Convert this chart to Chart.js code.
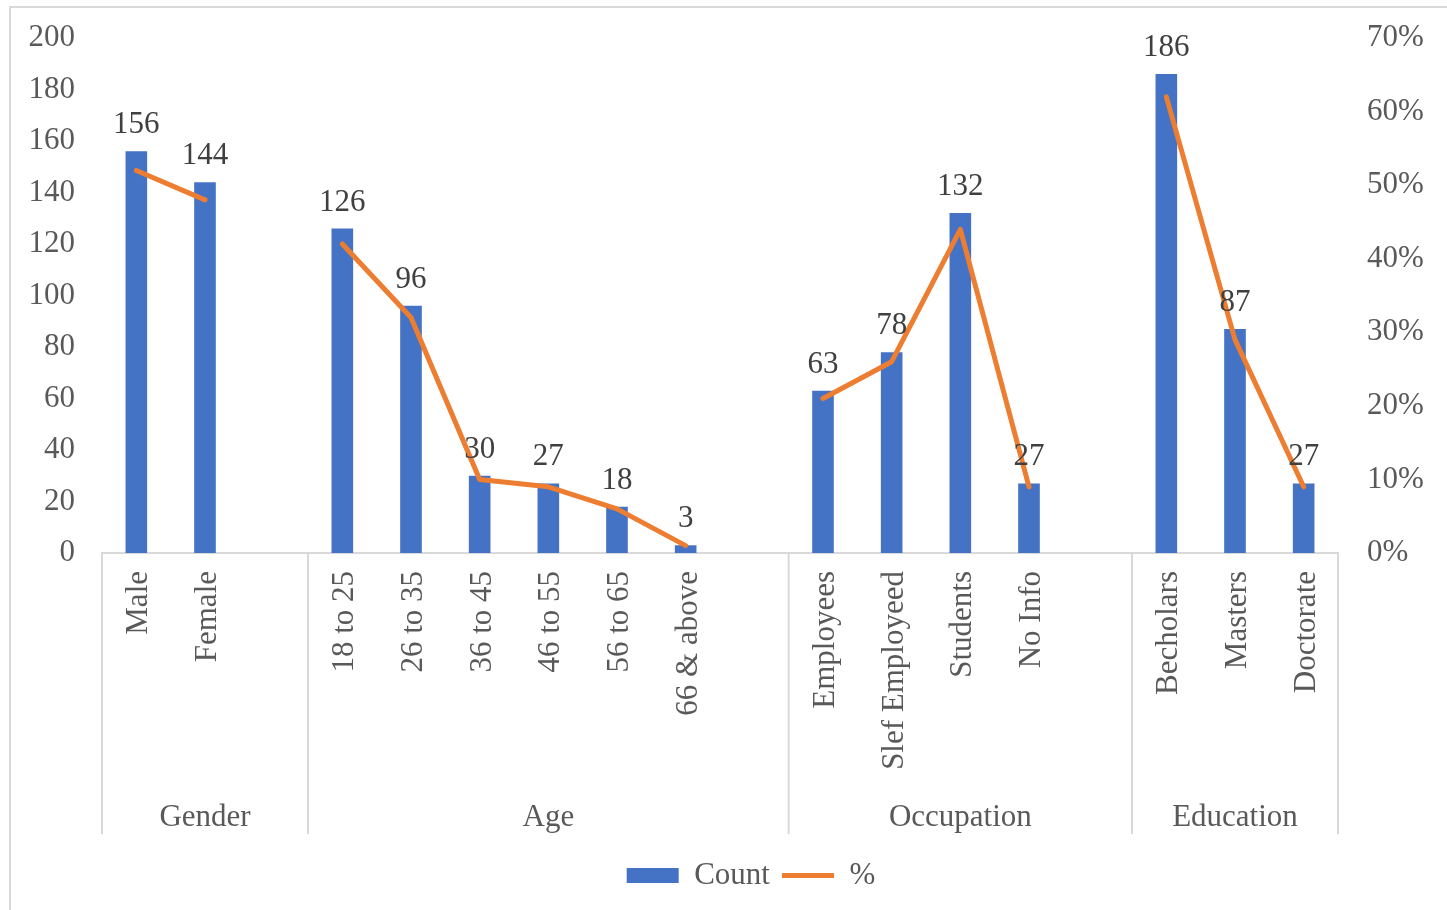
<!DOCTYPE html>
<html>
<head>
<meta charset="utf-8">
<script src="https://cdn.jsdelivr.net/npm/chart.js@4.4.1/dist/chart.umd.min.js"></script>
<style>
  html, body { margin:0; padding:0; background:#fff; overflow:hidden; width:1447px; height:910px; }
  #wrap { position:absolute; left:0; top:0; width:1502px; height:910px; }
</style>
</head>
<body>
<div id="wrap"><canvas id="chart" width="1502" height="910"></canvas></div>
<script>
const labels = ['Male','Female','', '18 to 25','26 to 35','36 to 45','46 to 55','56 to 65','66 & above','',
  'Employees','Slef Employeed','Students','No Info','', 'Becholars','Masters','Doctorate'];
const counts = [156,144,null, 126,96,30,27,18,3,null, 63,78,132,27,null, 186,87,27];
const percents = [52,48,null, 42,32,10,9,6,1,null, 21,26,44,9,null, 62,29,9];
const groupNames = ['Gender','Age','Occupation','Education'];
const groupSizes = [3,7,5,3];
const countTicks = [0,20,40,60,80,100,120,140,160,180,200];
const pctTicks = [0,10,20,30,40,50,60,70];

const FONT = '"Liberation Serif", "Times New Roman", serif';
const GREY = '#595959';
const LINE = '#d9d9d9';

// frame, group separators, group names, bar value labels
const extras = {
  id:'extras',
  beforeDraw(chart){
    const c = chart.ctx;
    c.save();
    c.strokeStyle = LINE; c.lineWidth = 2;
    c.beginPath();
    c.moveTo(10, 910); c.lineTo(10, 7); c.lineTo(1502, 7);
    c.stroke();
    c.restore();
  },
  afterDraw(chart){
    const c = chart.ctx, xs = chart.scales.x;
    const step = xs.getPixelForValue(1) - xs.getPixelForValue(0);
    const top = xs.top, bottom = xs.top + 281;
    c.save();
    c.strokeStyle = LINE; c.lineWidth = 2;
    let start = 0;
    const edges = [xs.getPixelForValue(0) - step/2];
    groupSizes.forEach(n => { start += n; edges.push(xs.getPixelForValue(start - 1) + step/2); });
    edges.forEach(x => { c.beginPath(); c.moveTo(x, top); c.lineTo(x, bottom); c.stroke(); });
    c.fillStyle = GREY; c.font = '31px ' + FONT; c.textAlign = 'center'; c.textBaseline = 'alphabetic';
    groupNames.forEach((g, i) => c.fillText(g, (edges[i] + edges[i+1]) / 2, top + 273));
    // value labels above the bars
    const meta = chart.getDatasetMeta(1);
    c.fillStyle = '#404040';
    meta.data.forEach((bar, i) => {
      if (counts[i] == null) return;
      c.fillText(String(counts[i]), bar.x, bar.y - 18);
    });
    c.restore();
  }
};

new Chart(document.getElementById('chart'), {
  data:{
    labels,
    datasets:[
      { type:'line', label:'%', data:percents, yAxisID:'y2', order:0,
        borderColor:'#ED7D31', backgroundColor:'#ED7D31', borderWidth:5,
        borderCapStyle:'round', borderJoinStyle:'round', pointRadius:0, pointHoverRadius:0,
        tension:0, spanGaps:false, pointStyle:'line' },
      { type:'bar', label:'Count', data:counts, yAxisID:'y', order:1,
        backgroundColor:'#4472C4', borderWidth:0, barPercentage:0.315, categoryPercentage:1, pointStyle:'rect' }
    ]
  },
  options:{
    responsive:false, devicePixelRatio:1, animation:false,
    layout:{ padding:{ left:0, right:0, top:38, bottom:9 } },
    plugins:{
      tooltip:{ enabled:false },
      legend:{
        position:'bottom',
        reverse:true,
        labels:{
          usePointStyle:true, pointStyleWidth:52, boxHeight:15, padding:12,
          color:GREY, font:{ family:FONT, size:31 }
        }
      }
    },
    scales:{
      x:{
        grid:{ display:false, drawTicks:false },
        border:{ display:true, color:LINE, width:2 },
        ticks:{ autoSkip:false, minRotation:90, maxRotation:90, padding:18, labelOffset:3,
          color:GREY, font:{ family:FONT, size:31 } },
        afterFit(s){ s.height = 295; s.paddingLeft = 0; s.paddingRight = 0; }
      },
      y:{
        position:'left', min:0, max:200,
        grid:{ display:false, drawTicks:false },
        border:{ display:false },
        afterBuildTicks(s){ s.ticks = countTicks.map(v => ({ value:v })); },
        ticks:{ padding:27, color:GREY, font:{ family:FONT, size:31 } },
        afterFit(s){ s.width = 102; s.paddingTop = 0; s.paddingBottom = 0; }
      },
      y2:{
        position:'right', min:0, max:70,
        grid:{ display:false, drawTicks:false },
        border:{ display:false },
        afterBuildTicks(s){ s.ticks = pctTicks.map(v => ({ value:v })); },
        ticks:{ padding:29, color:GREY, font:{ family:FONT, size:31 }, callback:v => v + '%' },
        afterFit(s){ s.width = 164; s.paddingTop = 0; s.paddingBottom = 0; }
      }
    }
  },
  plugins:[extras]
});
</script>
</body>
</html>
